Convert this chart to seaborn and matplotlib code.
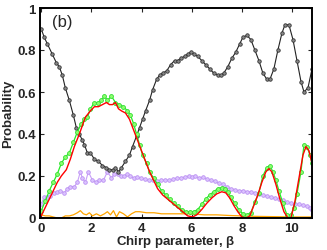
import numpy as np
import pandas as pd
import matplotlib
matplotlib.use('Agg')
import matplotlib.pyplot as plt
import seaborn as sns

# black curve (circles)
black_x = [0.0, 0.12, 0.24, 0.44, 0.60, 0.72, 0.84, 0.96, 1.12, 1.28, 1.40, 1.52, 1.64, 1.72, 1.84, 1.96,
           2.12, 2.28, 2.44, 2.60, 2.72, 2.88, 2.96, 3.08, 3.20, 3.36, 3.52, 3.64, 3.80, 3.92, 4.04, 4.16,
           4.32, 4.44, 4.60, 4.72, 4.84, 5.00, 5.16, 5.32, 5.44, 5.56, 5.72, 5.84, 5.96, 6.08, 6.24, 6.40,
           6.56, 6.72, 6.88, 7.04, 7.16, 7.28, 7.44, 7.60, 7.76, 7.92, 8.04, 8.20, 8.36, 8.52, 8.68, 8.84,
           9.00, 9.12, 9.28, 9.44, 9.60, 9.72, 9.88, 10.04, 10.20, 10.36, 10.48, 10.64, 10.80]
black_y = [0.90, 0.86, 0.83, 0.78, 0.74, 0.72, 0.68, 0.62, 0.56, 0.49, 0.43, 0.40, 0.37, 0.35, 0.31, 0.31,
           0.28, 0.27, 0.25, 0.24, 0.23, 0.23, 0.24, 0.22, 0.24, 0.27, 0.30, 0.34, 0.39, 0.43, 0.47, 0.51,
           0.56, 0.61, 0.66, 0.68, 0.69, 0.70, 0.73, 0.75, 0.75, 0.76, 0.77, 0.78, 0.79, 0.78, 0.77, 0.75,
           0.73, 0.71, 0.69, 0.68, 0.68, 0.69, 0.72, 0.76, 0.79, 0.83, 0.86, 0.87, 0.85, 0.80, 0.75, 0.69,
           0.66, 0.66, 0.71, 0.80, 0.88, 0.92, 0.92, 0.85, 0.75, 0.65, 0.60, 0.62, 0.71]

# green curve (circles)
green_x = [0.0, 0.16, 0.32, 0.48, 0.64, 0.80, 0.96, 1.12, 1.28, 1.44, 1.60, 1.72, 1.84, 1.96, 2.12, 2.28,
           2.40, 2.52, 2.64, 2.80, 2.96, 3.12, 3.28, 3.44, 3.56, 3.68, 3.80, 3.92, 4.04, 4.20, 4.32, 4.48,
           4.64, 4.80, 4.96, 5.12, 5.28, 5.44, 5.60, 5.76, 5.92, 6.08, 6.24, 6.40, 6.56, 6.72, 6.88, 7.04,
           7.20, 7.32, 7.44, 7.56, 7.72, 7.88, 8.04, 8.20, 8.36, 8.52, 8.68, 8.84, 9.00, 9.12, 9.24, 9.36,
           9.48, 9.64, 9.80, 9.96, 10.08, 10.20, 10.36, 10.48, 10.60, 10.72, 10.80]
green_y = [0.035, 0.08, 0.13, 0.17, 0.21, 0.26, 0.29, 0.31, 0.36, 0.41, 0.45, 0.47, 0.48, 0.52, 0.55, 0.55,
           0.56, 0.58, 0.56, 0.58, 0.55, 0.54, 0.53, 0.51, 0.49, 0.45, 0.40, 0.35, 0.30, 0.26, 0.22, 0.19,
           0.16, 0.13, 0.11, 0.09, 0.07, 0.055, 0.04, 0.03, 0.03, 0.03, 0.04, 0.065, 0.09, 0.11, 0.125, 0.14,
           0.145, 0.14, 0.125, 0.10, 0.07, 0.04, 0.02, 0.015, 0.025, 0.075, 0.12, 0.20, 0.24, 0.25, 0.22, 0.18,
           0.13, 0.07, 0.015, 0.015, 0.05, 0.115, 0.22, 0.35, 0.34, 0.30, 0.26]

# red curve (line only)
red_x = [0.0, 0.16, 0.32, 0.48, 0.64, 0.80, 1.00, 1.16, 1.32, 1.52, 1.64, 1.76, 1.96, 2.12, 2.28, 2.44,
         2.60, 2.72, 2.84, 2.96, 3.08, 3.20, 3.36, 3.52, 3.68, 3.84, 4.00, 4.16, 4.32, 4.48, 4.64, 4.84,
         5.04, 5.24, 5.44, 5.64, 5.84, 6.04, 6.20, 6.40, 6.60, 6.80, 7.00, 7.20, 7.36, 7.52, 7.68, 7.84,
         8.00, 8.16, 8.32, 8.48, 8.64, 8.80, 8.96, 9.08, 9.20, 9.36, 9.52, 9.68, 9.84, 9.96, 10.12, 10.28,
         10.44, 10.56, 10.68, 10.80]
red_y = [0.01, 0.05, 0.09, 0.13, 0.17, 0.20, 0.23, 0.28, 0.34, 0.40, 0.44, 0.48, 0.51, 0.53, 0.53, 0.54,
         0.55, 0.54, 0.54, 0.55, 0.52, 0.51, 0.50, 0.47, 0.42, 0.37, 0.32, 0.27, 0.22, 0.18, 0.14, 0.11,
         0.09, 0.07, 0.05, 0.03, 0.01, 0.005, 0.015, 0.04, 0.07, 0.095, 0.115, 0.125, 0.12, 0.095, 0.06, 0.03,
         0.005, 0.0, 0.01, 0.06, 0.11, 0.17, 0.22, 0.235, 0.22, 0.16, 0.09, 0.03, 0.0, 0.0, 0.08, 0.19,
         0.30, 0.34, 0.32, 0.26]

# purple curve (circles)
purple_x = [0.0, 0.12, 0.24, 0.36, 0.52, 0.64, 0.76, 0.92, 1.04, 1.16, 1.32, 1.44, 1.56, 1.64, 1.76, 1.88,
            2.04, 2.20, 2.32, 2.48, 2.64, 2.80, 2.92, 3.08, 3.20, 3.32, 3.44, 3.56, 3.68, 3.80, 3.96, 4.12,
            4.28, 4.44, 4.60, 4.76, 4.92, 5.08, 5.24, 5.40, 5.56, 5.72, 5.88, 6.00, 6.12, 6.28, 6.44, 6.60,
            6.76, 6.92, 7.08, 7.24, 7.40, 7.56, 7.72, 7.88, 8.04, 8.20, 8.36, 8.52, 8.68, 8.84, 9.00, 9.16,
            9.32, 9.48, 9.64, 9.80, 9.96, 10.12, 10.28, 10.44, 10.60, 10.72, 10.80]
purple_y = [0.067, 0.10, 0.10, 0.105, 0.12, 0.125, 0.13, 0.12, 0.14, 0.15, 0.15, 0.17, 0.22, 0.19, 0.17, 0.22,
            0.18, 0.17, 0.18, 0.18, 0.22, 0.19, 0.21, 0.21, 0.20, 0.20, 0.21, 0.20, 0.19, 0.195, 0.19, 0.185,
            0.18, 0.18, 0.175, 0.18, 0.18, 0.18, 0.185, 0.19, 0.19, 0.195, 0.20, 0.195, 0.20, 0.19, 0.195, 0.185,
            0.18, 0.175, 0.165, 0.16, 0.15, 0.14, 0.135, 0.13, 0.13, 0.125, 0.125, 0.12, 0.115, 0.11, 0.105, 0.10,
            0.095, 0.09, 0.085, 0.077, 0.07, 0.067, 0.065, 0.06, 0.055, 0.05, 0.04]

# orange curve (line only)
orange_x = [0.0, 0.16, 0.32, 0.48, 0.64, 0.80, 0.96, 1.12, 1.28, 1.44, 1.56, 1.68, 1.80, 1.92, 2.04, 2.20,
            2.36, 2.52, 2.64, 2.76, 2.88, 3.00, 3.12, 3.28, 3.44, 3.60, 3.76, 3.92, 4.20, 4.50, 4.80, 5.10,
            5.40, 5.70, 6.00, 6.50, 7.00, 7.50, 8.00, 8.50, 9.00, 9.50, 10.00, 10.80]
orange_y = [0.015, 0.01, 0.01, 0.005, 0.0, 0.0, 0.01, 0.01, 0.015, 0.025, 0.035, 0.02, 0.015, 0.025, 0.01, 0.02,
            0.01, 0.02, 0.03, 0.015, 0.035, 0.005, 0.03, 0.02, 0.005, 0.02, 0.03, 0.03, 0.025, 0.025, 0.02, 0.02,
            0.02, 0.02, 0.02, 0.015, 0.015, 0.012, 0.01, 0.008, 0.007, 0.006, 0.005, 0.005]

x_ticks = [0, 2, 4, 6, 8, 10]
y_ticks = [0, 0.2, 0.4, 0.6, 0.8, 1]
y_labels = ['0', '0.2', '0.4', '0.6', '0.8', '1']

sns.set_style('ticks')
plt.rcParams['font.family'] = ['Liberation Sans', 'DejaVu Sans']

fig = plt.figure(figsize=(3.27, 2.51), dpi=100)
ax = fig.add_axes([40 / 327, 32 / 251, 272 / 327, 210 / 251])

sns.lineplot(x=orange_x, y=orange_y, ax=ax, color='#ffa500', linewidth=0.9, sort=False)
sns.lineplot(x=purple_x, y=purple_y, ax=ax, color='#c8a0f8', linewidth=0.8, marker='o',
             markersize=2.6, markerfacecolor='#dcc4ff', markeredgecolor='#bb90f2', markeredgewidth=0.6,
             sort=False)
sns.lineplot(x=black_x, y=black_y, ax=ax, color='#222222', linewidth=0.8, marker='o',
             markersize=2.5, markerfacecolor='#8a8a8a', markeredgecolor='#333333', markeredgewidth=0.6,
             sort=False)
sns.lineplot(x=green_x, y=green_y, ax=ax, color='#22ee22', linewidth=0.9, marker='o',
             markersize=2.8, markerfacecolor='#8cff6e', markeredgecolor='#33dd33', markeredgewidth=0.6,
             sort=False)
sns.lineplot(x=red_x, y=red_y, ax=ax, color='#ff0000', linewidth=1.0, sort=False)

ax.set_xlim(-0.05, 10.8)
ax.set_ylim(0, 1.0)
ax.set_xticks(x_ticks)
ax.set_yticks(y_ticks)
ax.set_yticklabels(y_labels)
ax.tick_params(direction='in', top=True, right=True, length=3, width=0.8, pad=3)
for lab in ax.get_xticklabels() + ax.get_yticklabels():
    lab.set_fontweight('bold')
    lab.set_fontsize(9.5)
for s in ax.spines.values():
    s.set_linewidth(1.4)
    s.set_color('black')

ax.set_xlabel('Chirp parameter, $\\mathregular{\\beta}$', fontsize=9.5, fontweight='bold', labelpad=-1)
ax.set_ylabel('Probability', fontsize=9.5, fontweight='bold', labelpad=2)
ax.text(0.045, 0.97, '(b)', transform=ax.transAxes, fontsize=12, va='top', ha='left')

fig.savefig('out.png', dpi=100)
